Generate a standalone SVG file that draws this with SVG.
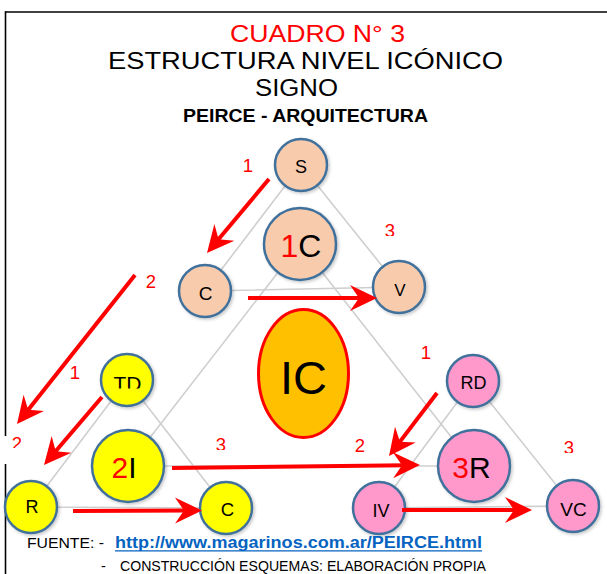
<svg xmlns="http://www.w3.org/2000/svg" width="607" height="574" viewBox="0 0 607 574">
<defs>
<style>
.frame{stroke:#000;stroke-width:1.6;fill:none}
.edge{stroke:#cfcfcf;stroke-width:1.6;fill:none}
.arr{stroke:#ff0000;stroke-width:4;fill:none;marker-end:url(#ah)}
.nd{stroke:#41719c;stroke-width:2.5;filter:url(#sh)}
.peach{fill:#f8cbad}
.yel{fill:#ffff00}
.pink{fill:#ff99cc}
.t{font-family:"Liberation Sans",Arial,sans-serif;fill:#000;text-anchor:middle}
.red{fill:#ff0000}
.num{font-family:"Liberation Sans",Arial,sans-serif;fill:#ff0000;font-size:18.5px;text-anchor:middle}
.title{font-family:"Liberation Sans",Arial,sans-serif;font-size:23px}
.foot{font-family:"Liberation Sans",Arial,sans-serif;fill:#000}
</style>
<marker id="ah" markerUnits="userSpaceOnUse" viewBox="-16 -15 32 30" refX="0" refY="0" markerWidth="32" markerHeight="30" orient="auto" overflow="visible">
<path d="M25,0 L-2,-13 L7,0 L-2,13 Z" fill="#ff0000" transform="translate(-11,0)"/>
</marker>
<filter id="sh" x="-30%" y="-30%" width="170%" height="170%">
<feDropShadow dx="1.5" dy="1.5" stdDeviation="1.5" flood-color="#000" flood-opacity="0.22"/>
</filter>
<clipPath id="c2" clipPathUnits="userSpaceOnUse"><rect x="0" y="420" width="40" height="28"/></clipPath>
<clipPath id="cTD" clipPathUnits="userSpaceOnUse"><rect x="90" y="360" width="80" height="28.5"/></clipPath>
<clipPath id="c3a" clipPathUnits="userSpaceOnUse"><rect x="370" y="215" width="40" height="21"/></clipPath>
<clipPath id="c3b" clipPathUnits="userSpaceOnUse"><rect x="200" y="430" width="40" height="20"/></clipPath>
<clipPath id="c3c" clipPathUnits="userSpaceOnUse"><rect x="550" y="430" width="40" height="23"/></clipPath>
</defs>
<rect width="607" height="574" fill="#ffffff"/>
<g id="frame">
<line class="frame" x1="5" y1="12" x2="607" y2="12"/>
<line class="frame" x1="5.5" y1="11.2" x2="5.5" y2="436"/>
<line class="frame" x1="5.5" y1="464" x2="5.5" y2="574"/>
</g>
<g id="title">
<text class="title" x="230" y="42" fill="#ff0000" textLength="175" lengthAdjust="spacingAndGlyphs">CUADRO N° 3</text>
<text class="title" x="108" y="69" fill="#000" textLength="395" lengthAdjust="spacingAndGlyphs">ESTRUCTURA NIVEL ICÓNICO</text>
<text class="title" x="255" y="96" fill="#000" textLength="83" lengthAdjust="spacingAndGlyphs">SIGNO</text>
<text x="183" y="122" font-family="Liberation Sans, Arial, sans-serif" font-size="19" font-weight="bold" fill="#000" textLength="245" lengthAdjust="spacingAndGlyphs">PEIRCE - ARQUITECTURA</text>
</g>
<g id="triangle-edges">
<polygon class="edge" points="301,165 205,291 399,287"/>
<polygon class="edge" points="300,244 128,466 474,466"/>
<polygon class="edge" points="127,380 31,507 226,508"/>
<polygon class="edge" points="473,381 379,508 573,506"/>
</g>
<g id="node-S"><circle class="nd peach" cx="301" cy="165" r="26"/><text class="t" x="301" y="173" font-size="18">S</text></g>
<g id="node-1C"><circle class="nd peach" cx="300" cy="244" r="36"/><text class="t" x="301" y="256.5" font-size="32"><tspan class="red">1</tspan>C</text></g>
<g id="node-C1"><circle class="nd peach" cx="205" cy="291" r="26"/><text class="t" x="205.5" y="300" font-size="19">C</text></g>
<g id="node-V"><circle class="nd peach" cx="399" cy="287" r="26"/><text class="t" x="400" y="296" font-size="17">V</text></g>
<g id="node-IC"><ellipse cx="303.5" cy="373.5" rx="45" ry="64" fill="#ffc000" stroke="#ff0000" stroke-width="3"/><text class="t" x="303.5" y="394" font-size="47">IC</text></g>
<g id="node-TD"><circle class="nd yel" cx="127" cy="380" r="26"/><text class="t" x="127.5" y="391" font-size="21" clip-path="url(#cTD)">TD</text></g>
<g id="node-2I"><circle class="nd yel" cx="128" cy="466" r="36"/><text class="t" x="124" y="478" font-size="30"><tspan class="red">2</tspan>I</text></g>
<g id="node-R"><circle class="nd yel" cx="31" cy="507" r="26"/><text class="t" x="32" y="513" font-size="18">R</text></g>
<g id="node-C2"><circle class="nd yel" cx="226" cy="508" r="26"/><text class="t" x="227.5" y="516" font-size="18.5">C</text></g>
<g id="node-RD"><circle class="nd pink" cx="473" cy="381" r="26"/><text class="t" x="473.5" y="389" font-size="18">RD</text></g>
<g id="node-3R"><circle class="nd pink" cx="474" cy="466" r="36"/><text class="t" x="471.5" y="478" font-size="30"><tspan class="red">3</tspan>R</text></g>
<g id="node-IV"><circle class="nd pink" cx="379" cy="508" r="26"/><text class="t" x="381" y="516.5" font-size="18">IV</text></g>
<g id="node-VC"><circle class="nd pink" cx="573" cy="506" r="26"/><text class="t" x="573.5" y="515.5" font-size="19">VC</text></g>
<g id="connectors">
<line class="arr" x1="269" y1="179" x2="216" y2="242.3"/>
<line class="arr" x1="248" y1="298" x2="363" y2="298"/>
<line class="arr" x1="135" y1="275" x2="25.7" y2="413"/>
<line class="arr" x1="102" y1="397" x2="53.1" y2="454.3"/>
<line class="arr" x1="73" y1="511" x2="188" y2="510.5"/>
<line class="arr" x1="172" y1="468" x2="406" y2="465.2"/>
<line class="arr" x1="437" y1="393" x2="397.5" y2="444.9"/>
<line class="arr" x1="402" y1="510" x2="518" y2="510"/>
<text class="num" x="248" y="172">1</text>
<text class="num" x="390" y="237" clip-path="url(#c3a)">3</text>
<text class="num" x="151" y="288">2</text>
<text class="num" x="75" y="379">1</text>
<text class="num" x="17" y="450" clip-path="url(#c2)">2</text>
<text class="num" x="221" y="451" clip-path="url(#c3b)">3</text>
<text class="num" x="426" y="359">1</text>
<text class="num" x="360" y="452">2</text>
<text class="num" x="569" y="454" clip-path="url(#c3c)">3</text>
</g>
<g id="footer">
<text class="foot" x="27" y="548" font-size="15" textLength="77" lengthAdjust="spacingAndGlyphs">FUENTE: -</text>
<text x="115" y="548" font-family="Liberation Sans, Arial, sans-serif" font-size="16" font-weight="bold" fill="#0563c1" textLength="367" lengthAdjust="spacingAndGlyphs">http://www.magarinos.com.ar/PEIRCE.html</text>
<line x1="115" y1="550.8" x2="482" y2="550.8" stroke="#0563c1" stroke-width="1.3"/>
<text class="foot" x="101" y="571" font-size="14.5">-</text>
<text class="foot" x="120" y="571" font-size="14.5" textLength="366" lengthAdjust="spacingAndGlyphs">CONSTRUCCIÓN ESQUEMAS: ELABORACIÓN PROPIA</text>
</g>
</svg>
